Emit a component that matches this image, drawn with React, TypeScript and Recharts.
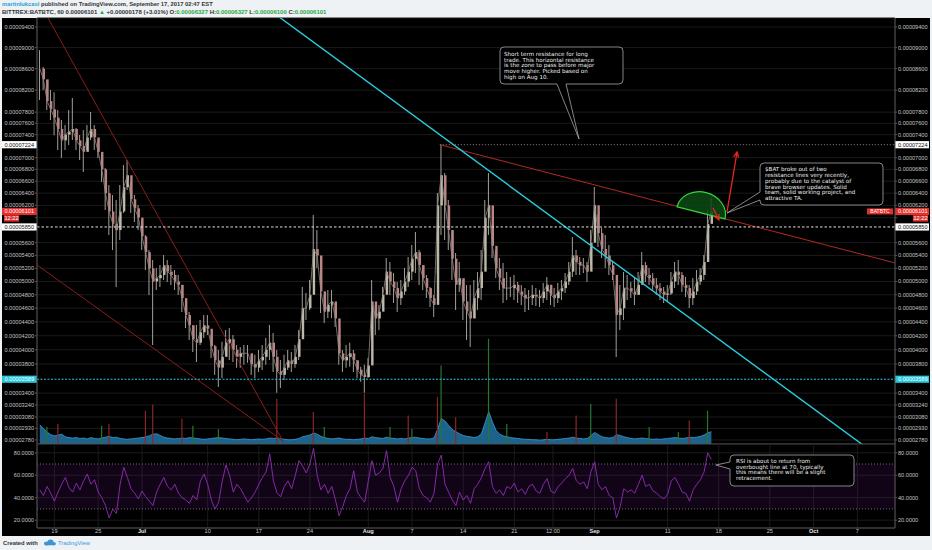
import React from 'react'
import {
  ComposedChart, Bar, Line, Area, XAxis, YAxis, CartesianGrid,
  ReferenceLine, ReferenceArea, Cell,
} from 'recharts'

// BITTREX:BATBTC 60 min in 12h steps from Jun 17 2017 00:00
// x = days from Jul 1 2017, prices in 1e-8 BTC
const START_DAY = -14
const STEP_DAYS = 0.5

const highs = [
  8950, 8630, 8388, 8203, 8160, 7839, 7660, 7570, 7839, 8056,
  7518, 7394, 7482, 7570, 7803, 7570, 7306, 7046, 6824, 6537,
  6371, 6289, 6537, 6875, 6960, 6588, 6371, 6207, 5963, 5722,
  5486, 5330, 5207, 5253, 5408, 5330, 5253, 5176, 5100, 4947,
  4723, 4546, 4355, 4355, 4428, 4501, 4501, 4212, 4069, 3998,
  4112, 4283, 4312, 4212, 4069, 4040, 4069, 4069, 3928, 3928,
  3998, 4069, 4169, 4355, 4240, 3998, 3857, 3928, 3998, 3970,
  4069, 4283, 4917, 4827, 5023, 6043, 5802, 5130, 4797, 4872,
  4872, 4679, 4212, 3998, 4069, 4098, 3998, 3857, 3760, 3788,
  3885, 5023, 4649, 4649, 4917, 5361, 5299, 5130, 4993, 5023,
  5207, 5377, 5565, 5770, 5486, 5253, 5100, 4917, 4797, 6405,
  7224, 6740, 6289, 5802, 5439, 5299, 5023, 4947, 4947, 5023,
  5146, 5486, 6289, 6740, 5882, 5486, 5361, 5284, 5146, 5069,
  5100, 4993, 4947, 4902, 4872, 4947, 4902, 4872, 4977, 5069,
  4947, 4902, 4977, 5023, 5130, 5299, 5690, 5486, 5377, 5361,
  5299, 5802, 6504, 6043, 5834, 5722, 5565, 5299, 4947, 4947,
  5146, 5100, 4993, 5053, 5146, 5455, 5299, 5207, 5130, 5053,
  4977, 4917, 4947, 5146, 5299, 5330, 5146, 5069, 4947, 5053,
  5176, 5207, 5408, 6125, 6327,
]

const lows = [
  8020, 8203, 7839, 7660, 7390, 7132, 6995, 7132, 7220, 7306,
  7132, 6960, 6756, 7132, 7306, 7132, 6995, 6588, 6125, 5722,
  5486, 4917, 5643, 6076, 6454, 6076, 5931, 5802, 5486, 5176,
  4798, 4069, 4872, 4917, 5023, 4993, 4947, 4872, 4798, 4546,
  4312, 4140, 3970, 3829, 4069, 4169, 4212, 3885, 3649, 3484,
  3607, 3928, 3857, 3829, 3746, 3746, 3788, 3816, 3649, 3607,
  3690, 3718, 3788, 3857, 3690, 3403, 3470, 3580, 3718, 3690,
  3746, 3857, 4384, 4428, 4575, 5222, 5207, 4531, 4384, 4457,
  4457, 4327, 3788, 3690, 3746, 3760, 3690, 3607, 3553, 3403,
  3607, 4140, 4212, 4283, 4620, 4872, 4798, 4679, 4546, 4649,
  4798, 4917, 5023, 5130, 4947, 4872, 4753, 4620, 4472, 5130,
  5722, 5643, 5486, 5023, 4575, 4842, 4428, 4140, 4040, 4457,
  4575, 4723, 5486, 5722, 5361, 5053, 4872, 4679, 4723, 4768,
  4723, 4679, 4649, 4546, 4575, 4649, 4634, 4620, 4679, 4723,
  4649, 4620, 4679, 4723, 4827, 4947, 5069, 5100, 5100, 5130,
  4993, 5253, 5882, 5533, 5361, 5207, 5100, 5023, 3899, 4283,
  4428, 4723, 4753, 4649, 4797, 5023, 4993, 4947, 4872, 4798,
  4723, 4679, 4694, 4797, 4902, 4947, 4842, 4768, 4605, 4649,
  4798, 4947, 5023, 5299, 6043,
]

const closes = [
  8600, 8400, 8000, 7850, 7700, 7500, 7300, 7400, 7450, 7500,
  7300, 7200, 7100, 7350, 7500, 7350, 7100, 6800, 6400, 6100,
  5900, 5800, 6100, 6500, 6700, 6300, 6150, 6000, 5700, 5450,
  5200, 5000, 5050, 5100, 5250, 5150, 5100, 5000, 4950, 4750,
  4500, 4350, 4150, 4100, 4250, 4350, 4300, 4050, 3850, 3750,
  3900, 4100, 4150, 4000, 3900, 3950, 3950, 3950, 3800, 3750,
  3850, 3900, 4000, 4100, 3900, 3700, 3650, 3750, 3850, 3800,
  3900, 4150, 4600, 4600, 4800, 5500, 5400, 4850, 4550, 4650,
  4700, 4450, 3950, 3850, 3900, 3950, 3850, 3720, 3650, 3620,
  3780, 4700, 4450, 4550, 4800, 5150, 5000, 4900, 4750, 4850,
  5000, 5150, 5350, 5450, 5250, 5050, 4900, 4750, 4650, 6200,
  6700, 6200, 5800, 5350, 4950, 5050, 4700, 4550, 4450, 4750,
  4900, 5150, 6000, 6200, 5550, 5200, 5050, 4900, 4900, 4900,
  4950, 4850, 4800, 4750, 4750, 4800, 4780, 4750, 4850, 4950,
  4800, 4750, 4850, 4900, 5000, 5150, 5400, 5300, 5250, 5250,
  5150, 5600, 6200, 5750, 5500, 5400, 5250, 5100, 4500, 4600,
  4900, 4900, 4850, 4800, 4950, 5250, 5100, 5050, 4950, 4900,
  4850, 4800, 4820, 5000, 5150, 5100, 4950, 4900, 4750, 4850,
  5000, 5100, 5300, 5900, 6101,
]

// volume, arbitrary units (100 = full price pane height)
const volumes = [
  4.5, 3.6, 2.8, 2.2, 1.9, 2.1, 2.3, 1.7, 1.5, 1.4,
  1.5, 1.3, 1.4, 1.2, 1.5, 1.3, 1.2, 1.4, 1.6, 1.8,
  1.5, 1.6, 1.3, 1.2, 1.1, 1.2, 1.3, 1.4, 1.5, 1.7,
  1.9, 2.3, 2.4, 2.0, 1.6, 1.4, 1.3, 1.2, 1.3, 1.4,
  1.3, 1.5, 1.4, 1.3, 1.2, 1.1, 1.2, 1.3, 1.4, 1.5,
  1.4, 1.3, 1.2, 1.1, 1.0, 1.1, 1.2, 1.1, 1.0, 1.1,
  1.2, 1.1, 1.2, 1.4, 1.3, 1.4, 1.3, 1.1, 1.0, 1.0,
  1.1, 1.3, 1.7, 1.9, 2.1, 2.6, 2.3, 1.8, 1.5, 1.3,
  1.2, 1.3, 1.4, 1.2, 1.1, 1.1, 1.0, 1.1, 1.2, 1.4,
  1.3, 1.7, 1.5, 1.4, 1.3, 1.6, 1.4, 1.3, 1.2, 1.3,
  1.2, 1.4, 1.5, 1.6, 1.4, 1.3, 1.2, 1.2, 1.4, 3.5,
  6.0, 5.4, 4.4, 3.4, 2.9, 2.4, 2.0, 1.8, 1.7, 1.5,
  1.7, 2.4, 5.0, 7.6, 5.2, 3.2, 2.3, 1.9, 1.7, 1.5,
  1.4, 1.3, 1.2, 1.1, 1.1, 1.0, 1.0, 0.9, 1.0, 1.1,
  1.0, 1.0, 1.1, 1.2, 1.3, 1.4, 1.6, 1.4, 1.3, 1.2,
  1.3, 2.0, 2.7, 2.2, 1.7, 1.5, 1.4, 1.5, 2.2, 2.0,
  1.7, 1.5, 1.3, 1.2, 1.3, 1.4, 1.3, 1.2, 1.1, 1.2,
  1.1, 1.2, 1.3, 1.4, 1.5, 1.4, 1.3, 1.4, 1.6, 1.5,
  1.6, 1.8, 2.1, 2.6, 2.9,
]

const volumeSpikes = [
  { day: -13.0, vol: 4.0, up: true }, { day: -11.5, vol: 4.7, up: false },
  { day: -5.3, vol: 4.3, up: true }, { day: -4.4, vol: 4.7, up: false },
  { day: 0.7, vol: 7.8, up: false }, { day: 1.6, vol: 9.3, up: false },
  { day: 5.6, vol: 5.9, up: false }, { day: 7.0, vol: 4.3, up: true },
  { day: 10.3, vol: 3.5, up: true }, { day: 18.6, vol: 10.6, up: false },
  { day: 23.4, vol: 7.5, up: false }, { day: 24.8, vol: 4.0, up: true },
  { day: 30.3, vol: 11.8, up: false }, { day: 34.0, vol: 4.0, up: true },
  { day: 36.4, vol: 6.7, up: false }, { day: 37.1, vol: 3.5, up: true },
  { day: 40.4, vol: 11.0, up: false }, { day: 40.8, vol: 18.4, up: true },
  { day: 42.9, vol: 6.3, up: false }, { day: 47.3, vol: 24.7, up: true },
  { day: 50.1, vol: 4.7, up: true }, { day: 55.5, vol: 2.8, up: false },
  { day: 59.3, vol: 6.7, up: false }, { day: 61.6, vol: 9.4, up: true },
  { day: 65.1, vol: 10.6, up: false }, { day: 69.3, vol: 4.0, up: true },
  { day: 73.3, vol: 2.8, up: true }, { day: 75.2, vol: 5.5, up: false },
  { day: 77.7, vol: 7.8, up: true },
]

const rsiValues = [
  47, 42, 50, 44, 37, 45, 52, 58, 49, 45,
  53, 47, 55, 61, 52, 56, 45, 40, 33, 22,
  30, 26, 52, 67, 58, 48, 44, 39, 46, 41,
  37, 33, 45, 52, 58, 50, 47, 52, 44, 40,
  38, 35, 42, 38, 55, 61, 52, 38, 30, 36,
  55, 69, 60, 45, 52, 48, 42, 36, 40, 45,
  52, 58, 63, 79, 55, 44, 41, 50, 55, 48,
  60, 73, 68, 62, 70, 84, 60, 47, 52, 44,
  50, 38, 24, 32, 42, 48, 64, 45, 40, 36,
  55, 73, 60, 62, 66, 82, 58, 50, 36, 48,
  55, 60, 67, 64, 48, 42, 40, 36, 44, 70,
  78, 52, 45, 38, 33, 45, 38, 42, 35, 48,
  52, 58, 66, 72, 50, 44, 47, 42, 50, 48,
  53, 45, 48, 43, 50, 52, 46, 44, 52, 57,
  46, 44, 50, 53, 57, 60, 66, 55, 52, 54,
  48, 63, 72, 52, 47, 50, 42, 40, 22, 32,
  48, 45, 47, 44, 52, 60, 50, 52, 46, 44,
  41, 39, 43, 55, 58, 52, 45, 44, 37, 47,
  52, 56, 63, 80, 74,
]

// 6000 keeps its grid line, its label sits under the 12:22 box
const priceTicks = [
  9400, 9000, 8600, 8200, 7800, 7600, 7400, 7000, 6800, 6600, 6400, 6200, 6000,
  5600, 5400, 5200, 5000, 4800, 4600, 4400, 4200, 4000, 3800, 3400, 3240, 3080, 2930, 2780,
]
const hiddenPriceLabels = [6000]
const rsiTicks = [20, 40, 60, 80]
const timeTickDays = [-12, -6, 0, 9, 16, 23, 31, 37, 44, 51, 56.3, 62, 72, 79, 86, 92, 98]
const timeTickLabels = ['19', '25', 'Jul', '10', '17', '24', 'Aug', '7', '14', '21', '12:00', 'Sep', '11', '18', '25', 'Oct', '7']

const LAST_PRICE = 6101
const AUG10_HIGH = 7224
const BREAKOUT = 5850
const SUPPORT = 3589

// drawn trend lines: [day, price] -> [day, price]
const trendLines = [
  { a: [-13.1, 9636], b: [19.3, 2767], color: '#8a1d1d', w: 1 },
  { a: [-14.38, 5253], b: [19.3, 2767], color: '#8a1d1d', w: 1 },
  { a: [40.8, 7224], b: [103.15, 5284], color: '#b02a22', w: 1 },
  { a: [18.42, 9636], b: [99.32, 2677], color: '#2ccbdc', w: 1.4 },
]

// TradingView log mode is log(price + c)
const LOG_SHIFT = 10000
const PRICE_DOMAIN = [2728 + LOG_SHIFT, 9577 + LOG_SHIFT]
const DAY_DOMAIN = [-14.384, 103.151]
const RSI_DOMAIN = [13.06, 87.8]

const AXIS_W = 37
const W = 932
const FONT = 'Liberation Sans, Arial, sans-serif'
const AXIS_TEXT = '#c4c4c4'
const GRID = '#1a1a1a'
const AXIS_LINE = '#555'

const rows = highs.map((h, i) => {
  const day = START_DAY + i * STEP_DAYS
  const spike = volumeSpikes.find((s) => Math.abs(s.day - day) <= 0.25)
  return {
    day,
    high: h,
    low: lows[i],
    close: closes[i],
    open: i === 0 ? closes[0] : closes[i - 1],
    vol: volumes[i],
    spike: spike ? spike.vol : 0,
    spikeUp: spike ? spike.up : true,
  }
})

const rsiRows = rsiValues.map((v, i) => ({ day: START_DAY + i * STEP_DAYS, rsi: v }))

const fmtPrice = (u: number) => (u / 1e8).toFixed(8)

const PriceTick = ({ y, payload, side }: any) => {
  const u = Math.round(payload.value - LOG_SHIFT)
  if (hiddenPriceLabels.includes(u)) return null
  return side === 'left' ? (
    <text x={AXIS_W - 3} y={y} dy={1.9} textAnchor="end" fontSize={5.6} fontFamily={FONT} fill={AXIS_TEXT}>{fmtPrice(u)}</text>
  ) : (
    <text x={W - AXIS_W + 3} y={y} dy={1.9} fontSize={5.6} fontFamily={FONT} fill={AXIS_TEXT}>{fmtPrice(u)}</text>
  )
}
const RsiTick = ({ y, payload, side }: any) => side === 'left' ? (
  <text x={AXIS_W - 3} y={y} dy={1.9} textAnchor="end" fontSize={5.6} fontFamily={FONT} fill={AXIS_TEXT}>{payload.value.toFixed(4)}</text>
) : (
  <text x={W - AXIS_W + 3} y={y} dy={1.9} fontSize={5.6} fontFamily={FONT} fill={AXIS_TEXT}>{payload.value.toFixed(4)}</text>
)
const TimeTick = ({ x, payload }: any) => {
  const label = timeTickLabels[timeTickDays.indexOf(payload.value)]
  const month = ['Jul', 'Aug', 'Sep', 'Oct'].includes(label)
  return (
    <text x={x} y={89} textAnchor="middle" fontSize={5.6} fontFamily={FONT}
      fontWeight={month ? 'bold' : 'normal'} fill={month ? '#e6e6e6' : AXIS_TEXT}>
      {label}
    </text>
  )
}

// boxed price on both axes
const PriceTag = ({ viewBox, text, bg, fg, time, symbol }: any) => {
  const y = viewBox ? viewBox.y : 0
  return (
    <g fontFamily={FONT} fontSize={5.6}>
      <rect x={2} y={y - 3.6} width={AXIS_W - 2} height={7.2} fill={bg} />
      <text x={AXIS_W - 3} y={y + 2} textAnchor="end" fill={fg}>{text}</text>
      <rect x={W - AXIS_W} y={y - 3.6} width={AXIS_W - 3} height={7.2} fill={bg} />
      <text x={W - AXIS_W + 3} y={y + 2} fill={fg}>{text}</text>
      {time && (
        <g>
          <rect x={4} y={y + 3.8} width={15} height={6.4} fill={bg} />
          <text x={11.5} y={y + 9} textAnchor="middle" fill={fg}>{time}</text>
          <rect x={W - 19} y={y + 3.8} width={15} height={6.4} fill={bg} />
          <text x={W - 11.5} y={y + 9} textAnchor="middle" fill={fg}>{time}</text>
        </g>
      )}
      {symbol && (
        <g>
          <rect x={W - AXIS_W - 28} y={y - 3} width={26} height={6} fill={bg} />
          <text x={W - AXIS_W - 15} y={y + 1.8} textAnchor="middle" fontSize={5} fill={fg}>{symbol}</text>
        </g>
      )}
    </g>
  )
}

const ArrowShape = ({ x1, y1, x2, y2, color }: any) => {
  const ang = Math.atan2(y2 - y1, x2 - x1)
  const len = 6
  const h1 = [x2 - len * Math.cos(ang - 0.45), y2 - len * Math.sin(ang - 0.45)]
  const h2 = [x2 - len * Math.cos(ang + 0.45), y2 - len * Math.sin(ang + 0.45)]
  return (
    <g stroke={color} strokeWidth={1.3} fill="none">
      <line x1={x1} y1={y1} x2={x2} y2={y2} />
      <polyline points={`${h1[0]},${h1[1]} ${x2},${y2} ${h2[0]},${h2[1]}`} />
    </g>
  )
}

const ArcShape = ({ x1, y1, x2, y2 }: any) => {
  const rx = Math.hypot(x2 - x1, y2 - y1) / 2
  const rot = (Math.atan2(y2 - y1, x2 - x1) * 180) / Math.PI
  return (
    <path d={`M${x1},${y1} A${rx},21 ${rot} 0 1 ${x2},${y2} Z`}
      fill="#0c4a14" fillOpacity={0.85} stroke="#35d43a" strokeWidth={1.2} />
  )
}

const Callout = ({ d, x, ys, lines }: any) => (
  <g>
    <path d={d} fill="#000" stroke="#bdbdbd" strokeWidth={0.7} />
    {lines.map((t: string, i: number) => (
      <text key={i} x={x} y={ys[i]} fontSize={5.6} fontFamily="DejaVu Sans, Verdana, sans-serif" fill="#ececec">{t}</text>
    ))}
  </g>
)

export default function App() {
  return (
    <div style={{ position: 'absolute', left: 0, top: 0, width: W, height: 550, background: '#eff2f5', overflow: 'hidden' }}>
      <div style={{ position: 'absolute', left: 2, top: 17.5, width: W - 4, height: 518.5, background: '#000' }} />

      <div style={{ position: 'absolute', left: 0, top: 0 }}>
        <ComposedChart width={W} height={445} data={rows} margin={{ top: 18, right: 0, bottom: 0, left: 0 }}>
          <XAxis xAxisId="x" dataKey="day" type="number" domain={DAY_DOMAIN} allowDataOverflow ticks={timeTickDays}
            height={1} tick={false} tickLine={false} axisLine={{ stroke: AXIS_LINE }} />
          <XAxis xAxisId="xb" dataKey="day" type="number" domain={DAY_DOMAIN} allowDataOverflow hide />
          <XAxis xAxisId="xs" dataKey="day" type="number" domain={DAY_DOMAIN} allowDataOverflow hide />
          <YAxis yAxisId="pl" orientation="left" width={AXIS_W} scale="log" domain={PRICE_DOMAIN} allowDataOverflow
            ticks={priceTicks.map((p) => p + LOG_SHIFT)} interval={0} tickSize={2}
            tickLine={{ stroke: AXIS_LINE }} axisLine={{ stroke: AXIS_LINE }} tick={<PriceTick side="left" />} />
          <YAxis yAxisId="pr" orientation="right" width={AXIS_W} scale="log" domain={PRICE_DOMAIN} allowDataOverflow
            ticks={priceTicks.map((p) => p + LOG_SHIFT)} interval={0} tickSize={2}
            tickLine={{ stroke: AXIS_LINE }} axisLine={{ stroke: AXIS_LINE }} tick={<PriceTick side="right" />} />
          <YAxis yAxisId="vol" hide domain={[0, 100]} allowDataOverflow />
          <CartesianGrid xAxisId="x" yAxisId="pl" stroke={GRID} strokeWidth={1} />

          <Area xAxisId="x" yAxisId="vol" dataKey="vol" type="linear" stroke="#3c9ad2" strokeWidth={0.8}
            fill="#1f6d9a" fillOpacity={0.9} isAnimationActive={false} />
          <Bar xAxisId="xs" yAxisId="vol" dataKey="spike" barSize={1.2} isAnimationActive={false}>
            {rows.map((r, i) => <Cell key={i} fill={r.spikeUp ? '#27772f' : '#8c2626'} />)}
          </Bar>
          <Bar xAxisId="x" yAxisId="pl" dataKey={(r: any) => [r.low + LOG_SHIFT, r.high + LOG_SHIFT]}
            barSize={1} fill="#a59f99" isAnimationActive={false} />
          <Bar xAxisId="xb" yAxisId="pl"
            dataKey={(r: any) => [Math.min(r.open, r.close) + LOG_SHIFT, Math.max(r.open, r.close) + LOG_SHIFT]}
            barSize={2.4} isAnimationActive={false}>
            {rows.map((r, i) => <Cell key={i} fill={r.close >= r.open ? '#bdb8a8' : '#b98585'} />)}
          </Bar>
          <Line xAxisId="x" yAxisId="pl" dataKey={(r: any) => r.close + LOG_SHIFT} stroke="#8f8a84" strokeWidth={0.8}
            dot={false} isAnimationActive={false} />

          {trendLines.map((t, i) => (
            <ReferenceLine key={i} xAxisId="x" yAxisId="pl" ifOverflow="hidden" stroke={t.color} strokeWidth={t.w}
              segment={[{ x: t.a[0], y: t.a[1] + LOG_SHIFT }, { x: t.b[0], y: t.b[1] + LOG_SHIFT }]} />
          ))}
          <ReferenceLine xAxisId="x" yAxisId="pl" ifOverflow="hidden" stroke="#8a8a8a" strokeDasharray="1 2"
            segment={[{ x: 40.8, y: AUG10_HIGH + LOG_SHIFT }, { x: DAY_DOMAIN[1], y: AUG10_HIGH + LOG_SHIFT }]} />
          <ReferenceLine xAxisId="x" yAxisId="pl" y={AUG10_HIGH + LOG_SHIFT} stroke="none"
            label={<PriceTag text={fmtPrice(AUG10_HIGH)} bg="#ffffff" fg="#111" />} />
          <ReferenceLine xAxisId="x" yAxisId="pl" y={BREAKOUT + LOG_SHIFT} stroke="#e0e0e0" strokeDasharray="2.5 2"
            label={<PriceTag text={fmtPrice(BREAKOUT)} bg="#ffffff" fg="#111" />} />
          <ReferenceLine xAxisId="x" yAxisId="pl" y={SUPPORT + LOG_SHIFT} stroke="#27c6da" strokeDasharray="2 1.5"
            label={<PriceTag text={fmtPrice(SUPPORT)} bg="#27c6da" fg="#fff" />} />
          <ReferenceLine xAxisId="x" yAxisId="pl" y={LAST_PRICE + LOG_SHIFT} stroke="none"
            label={<PriceTag text={fmtPrice(LAST_PRICE)} bg="#e3302c" fg="#fff" time="12:22" symbol="BATBTC" />} />

          <ReferenceLine xAxisId="x" yAxisId="pl" ifOverflow="visible"
            segment={[{ x: 73.29, y: 6174 + LOG_SHIFT }, { x: 79.86, y: 5979 + LOG_SHIFT }]} shape={<ArcShape />} />
          <ReferenceLine xAxisId="x" yAxisId="pl" ifOverflow="visible"
            segment={[{ x: 78.22, y: 6158 + LOG_SHIFT }, { x: 79.04, y: 5963 + LOG_SHIFT }]} shape={<ArrowShape color="#e8261e" />} />
          <ReferenceLine xAxisId="x" yAxisId="pl" ifOverflow="visible"
            segment={[{ x: 80.14, y: 6093 + LOG_SHIFT }, { x: 81.51, y: 7097 + LOG_SHIFT }]} shape={<ArrowShape color="#e8261e" />} />
        </ComposedChart>
      </div>

      <div style={{ position: 'absolute', left: 0, top: 444 }}>
        <ComposedChart width={W} height={92} data={rsiRows} margin={{ top: 0, right: 0, bottom: 0, left: 0 }}>
          <XAxis dataKey="day" type="number" domain={DAY_DOMAIN} allowDataOverflow ticks={timeTickDays} interval={0}
            height={8} tickSize={0} tickLine={false} axisLine={{ stroke: AXIS_LINE }} tick={<TimeTick />} />
          <YAxis yAxisId="l" orientation="left" width={AXIS_W} domain={RSI_DOMAIN} allowDataOverflow ticks={rsiTicks}
            interval={0} tickSize={2} tickLine={{ stroke: AXIS_LINE }} axisLine={{ stroke: AXIS_LINE }} tick={<RsiTick side="left" />} />
          <YAxis yAxisId="r" orientation="right" width={AXIS_W} domain={RSI_DOMAIN} allowDataOverflow ticks={rsiTicks}
            interval={0} tickSize={2} tickLine={{ stroke: AXIS_LINE }} axisLine={{ stroke: AXIS_LINE }} tick={<RsiTick side="right" />} />
          <CartesianGrid yAxisId="l" stroke={GRID} />
          <ReferenceArea yAxisId="l" y1={30} y2={70} fill="#7b1fa2" fillOpacity={0.14} stroke="none" />
          <ReferenceLine yAxisId="l" y={70} stroke="#6e6e6e" strokeDasharray="1 2" />
          <ReferenceLine yAxisId="l" y={30} stroke="#6e6e6e" strokeDasharray="1 2" />
          <Line yAxisId="l" dataKey="rsi" stroke="#8f2fb4" strokeWidth={0.9} dot={false} isAnimationActive={false} />
        </ComposedChart>
      </div>

      <svg width={W} height={550} style={{ position: 'absolute', left: 0, top: 0, pointerEvents: 'none' }}>
        <g fontFamily={FONT} fontSize={5.8} fontWeight="bold" fill="#333">
          <text x={2} y={6.4}>
            <tspan fill="#2a9fd8">martinlukcasl</tspan>
            <tspan> published on TradingView.com, September 17, 2017 02:47 EST</tspan>
          </text>
          <text x={2} y={14.2} fontSize={6}>
            <tspan>BITTREX:BATBTC, 60  0.00006101 </tspan>
            <tspan fill="#27a844">▲</tspan>
            <tspan> +0.00000178 (+3.01%) O:</tspan><tspan fill="#27a844">0.00006327</tspan>
            <tspan> H:</tspan><tspan fill="#27a844">0.00006327</tspan>
            <tspan> L:</tspan><tspan fill="#27a844">0.00006100</tspan>
            <tspan> C:</tspan><tspan fill="#27a844">0.00006101</tspan>
          </text>
        </g>

        <Callout
          d="M504,47 H619 Q623,47 623,51 V80 Q623,84 619,84 H566 L579,139 L557,84 H504 Q500,84 500,80 V51 Q500,47 504,47 Z"
          x={504} ys={[55.8, 61.5, 67.1, 72.8, 78.5]}
          lines={['Short term resistance for long', 'trade. This horizontal resistance', 'is the zone to pass before major', 'move higher. Picked based on', 'high on Aug 10.']} />
        <Callout
          d="M764,163 H879 Q883,163 883,167 V201 Q883,205 879,205 H764 Q760,205 760,201 V200 L727,213 L760,192 V167 Q760,163 764,163 Z"
          x={765} ys={[171.1, 176.8, 182.5, 188.5, 194.1, 200.1]}
          lines={['$BAT broke out of two', 'resistance lines very recently,', 'probably due to the catalyst of', 'brave browser updates. Solid', 'team, solid working project, and', 'attractive TA.']} />
        <Callout
          d="M734,455 H850 Q854,455 854,459 V482 Q854,486 850,486 H734 Q730,486 730,482 V469 L716,465 L730,462 V459 Q730,455 734,455 Z"
          x={736} ys={[462.5, 468.5, 474.1, 480.1]}
          lines={['RSI is about to return from', 'overbought line at 70, typically', 'this means there will be a slight', 'retracement.']} />

        <g fontFamily={FONT} fontSize={5.8}>
          <text x={3} y={545.3} fontWeight="bold" fill="#333">Created with</text>
          <g fill="#3b95d8">
            <ellipse cx={47} cy={543.6} rx={3} ry={2} />
            <ellipse cx={50.5} cy={542.4} rx={3} ry={2.8} />
            <ellipse cx={53.5} cy={543.8} rx={2.4} ry={1.8} />
          </g>
          <text x={58} y={545.3} fill="#3b95d8">TradingView</text>
        </g>
      </svg>
    </div>
  )
}
